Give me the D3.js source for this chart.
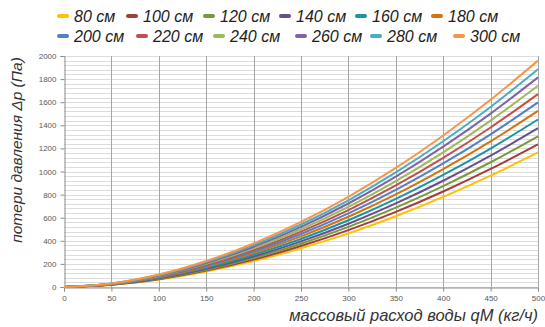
<!DOCTYPE html>
<html><head><meta charset="utf-8">
<script src="https://cdn.jsdelivr.net/npm/d3@7"></script>
<style>body{margin:0;background:#fff}svg{display:block}</style>
</head><body>
<svg id="c" width="545" height="327"></svg>
<script>
const flowX = [0, 50, 100, 150, 200, 250, 300, 350, 400, 450, 500];
const seriesNames = ["80 см","100 см","120 см","140 см","160 см","180 см","200 см","220 см","240 см","260 см","280 см","300 см"];
const seriesColors = ["#FFC000","#A0403C","#779A3A","#674F8E","#1A93A6","#D2730F","#4F81C4","#C0504D","#9BBB59","#8064A2","#4BACC6","#F79646"];
const s80  = [0, 18, 64, 134, 224, 335, 464, 613, 780, 964, 1165];
const s100 = [0, 20, 68, 142, 237, 355, 492, 650, 827, 1022, 1235];
const s120 = [0, 21, 72, 150, 251, 375, 520, 687, 874, 1080, 1305];
const s140 = [0, 22, 76, 158, 264, 395, 548, 724, 920, 1137, 1375];
const s160 = [0, 23, 80, 166, 279, 416, 578, 763, 971, 1199, 1450];
const s180 = [0, 24, 84, 175, 293, 438, 608, 802, 1021, 1261, 1525];
const s200 = [0, 25, 88, 183, 307, 459, 637, 841, 1070, 1322, 1598];
const s220 = [0, 26, 92, 192, 321, 480, 666, 879, 1118, 1381, 1670];
const s240 = [0, 28, 96, 200, 335, 500, 694, 917, 1166, 1441, 1742];
const s260 = [0, 29, 100, 208, 349, 521, 723, 955, 1215, 1501, 1815];
const s280 = [0, 30, 104, 216, 362, 541, 751, 992, 1262, 1559, 1885];
const s300 = [0, 31, 108, 225, 377, 563, 781, 1031, 1312, 1621, 1960];
const seriesValues = [s80,s100,s120,s140,s160,s180,s200,s220,s240,s260,s280,s300];
const xTicks = [0, 50, 100, 150, 200, 250, 300, 350, 400, 450, 500];
const yTicks = [0, 200, 400, 600, 800, 1000, 1200, 1400, 1600, 1800, 2000];
const yMinorStep = 40;
const xTitle = "массовый расход воды qM (кг/ч)";
const yTitle = "потери давления Δp (Па)";

const FONT = "Liberation Sans, Arial, sans-serif";
const svg = d3.select("#c");
const L = 64, R = 538, T = 56, B = 287;
const x = d3.scaleLinear().domain([0, 500]).range([L, R]);
const y = d3.scaleLinear().domain([0, 2000]).range([B, T]);

// minor horizontal gridlines
const minor = d3.range(0, 2000 + 1, yMinorStep);
svg.append("g").selectAll("line").data(minor).join("line")
  .attr("x1", L).attr("x2", R)
  .attr("y1", d => Math.round(y(d)) + 0.5).attr("y2", d => Math.round(y(d)) + 0.5)
  .attr("stroke", "#dcdcdc").attr("stroke-width", 1);

// vertical gridlines
svg.append("g").selectAll("line").data(xTicks.slice(1)).join("line")
  .attr("x1", d => Math.round(x(d)) + 0.5).attr("x2", d => Math.round(x(d)) + 0.5)
  .attr("y1", T).attr("y2", B)
  .attr("stroke", "#a6a6a6").attr("stroke-width", 1);

// axes
const xAxis = svg.append("g").attr("transform", `translate(0,${Math.round(B)+0.5})`)
  .call(d3.axisBottom(x).tickValues(xTicks).tickFormat(d3.format("d")).tickSize(4).tickPadding(4));
const yAxis = svg.append("g").attr("transform", `translate(${Math.round(L)+0.5},0)`)
  .call(d3.axisLeft(y).tickValues(yTicks).tickFormat(d3.format("d")).tickSize(4).tickPadding(4));
[xAxis, yAxis].forEach(g => {
  g.select(".domain").attr("stroke", "#8c8c8c");
  g.selectAll(".tick line").attr("stroke", "#8c8c8c");
  g.selectAll("text").attr("fill", "#595959")
    .style("font-family", FONT).style("font-size", "8px");
});

// lines
const line = d3.line().x((d, i) => x(flowX[i])).y(d => y(d)).curve(d3.curveMonotoneX);
svg.append("g").selectAll("path").data(seriesValues).join("path")
  .attr("d", d => line(d)).attr("fill", "none")
  .attr("stroke", (d, i) => seriesColors[i]).attr("stroke-width", 2)
  .attr("stroke-linejoin", "round");

// titles
svg.append("text").attr("x", R).attr("y", 321).attr("text-anchor", "end")
  .style("font-family", FONT).style("font-size", "16.5px")
  .style("font-style", "italic").attr("fill", "#333").text(xTitle);
svg.append("text").attr("transform", `translate(22,150) rotate(-90)`)
  .attr("text-anchor", "middle")
  .style("font-family", FONT).style("font-size", "15.5px")
  .style("font-style", "italic").attr("fill", "#333").text(yTitle);

// legend (item start positions follow the reference's flow layout)
const lg = svg.append("g");
const rowX = [[57, 126, 203, 279, 355, 431], [57, 136, 213, 295, 370, 453]];
const rowY = [16, 36];
seriesNames.forEach((name, idx) => {
  const r = Math.floor(idx / 6), j = idx % 6;
  const cx = rowX[r][j];
  lg.append("line").attr("x1", cx + 2).attr("x2", cx + 10)
    .attr("y1", rowY[r]).attr("y2", rowY[r])
    .attr("stroke", seriesColors[idx]).attr("stroke-width", 4).attr("stroke-linecap", "round");
  lg.append("text").attr("x", cx + 17).attr("y", rowY[r]).attr("dy", "0.35em")
    .style("font-family", FONT).style("font-size", "16px")
    .style("font-style", "italic").attr("fill", "#222").text(name);
});
</script>
</body></html>
